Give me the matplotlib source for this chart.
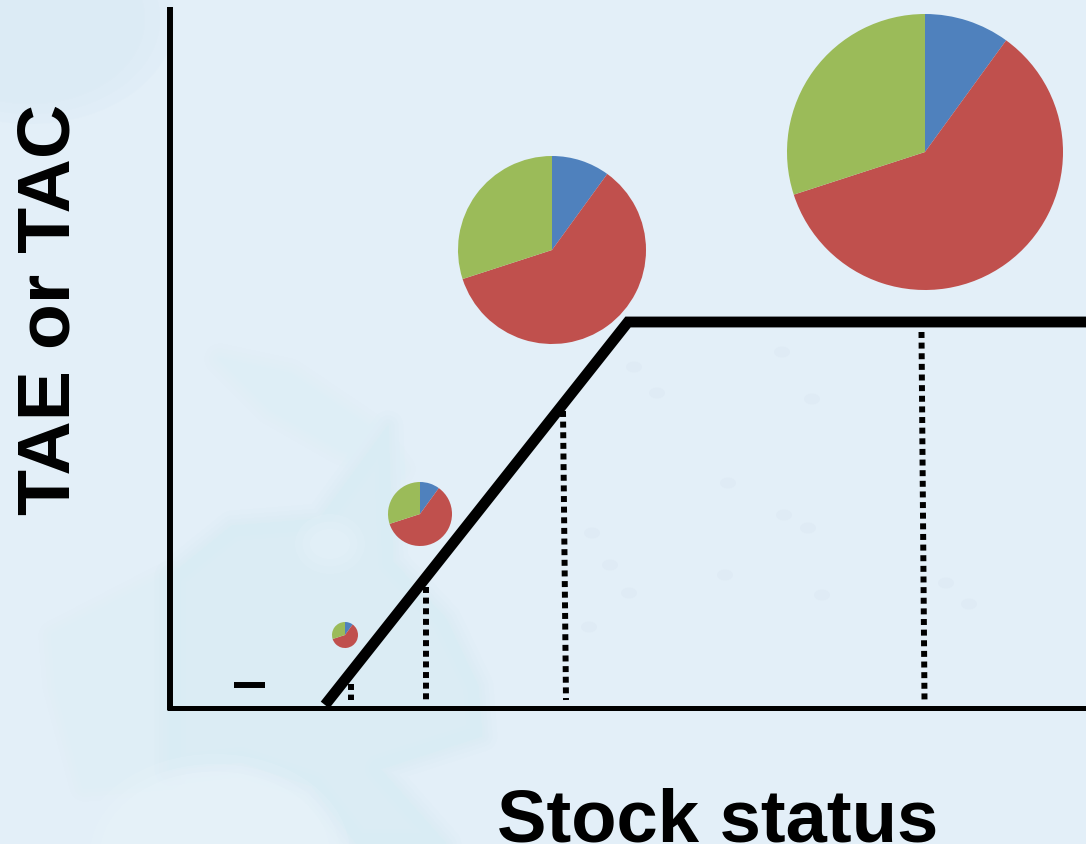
import matplotlib
matplotlib.use("Agg")
import matplotlib.pyplot as plt
from matplotlib.patches import Polygon, Ellipse

# values (pixel scale of the reference)
shares = [10, 60, 30]
share_colors = ["#4f81bd", "#c0504d", "#9bbb59"]

pie_x = [345, 420, 552, 925]
pie_y = [636, 515, 251, 153]
pie_r = [13, 32, 94, 138]

rule_x = [325, 628, 1086]
rule_y = [706, 323, 323]

# dotted lines lean a little in the reference
ref_top_x = [351, 426, 563, 921.5]
ref_bottom_x = [351, 426, 566, 924.5]
ref_top_y = [685, 588, 412, 333]
ref_bottom_y = 701
axis_y = 708.5

# faint map behind the chart
australia_west = [(54, 637), (170, 577), (170, 780), (85, 787), (58, 687)]
australia = [(170, 577), (232, 527), (320, 520), (388, 427), (393, 563), (446, 620),
             (478, 687), (482, 737), (380, 770), (446, 845), (357, 845), (312, 787), (241, 763),
             (170, 771)]
new_guinea = [(220, 360), (290, 375), (367, 427), (400, 470), (340, 450), (270, 410)]
west_coast = [(0, 150), (40, 190), (70, 300), (40, 420), (0, 440)]
island_x = [592, 610, 629, 589, 725, 822, 784, 808, 946, 969, 634, 657, 782, 812, 728]
island_y = [534, 566, 594, 628, 576, 596, 516, 529, 584, 605, 368, 394, 353, 400, 484]


def soft_polygon(ax, points, color, zorder=0):
    # feathered edge: same shape stroked a few times with low alpha
    for lw in [22, 15, 9, 4, 1]:
        ax.add_patch(Polygon(points, fc=color, ec=color, lw=lw, alpha=0.2,
                             joinstyle="round", zorder=zorder))


fig = plt.figure(figsize=(10.86, 8.45), dpi=100, facecolor="#e3eff8")
ax = fig.add_axes([0, 0, 1, 1])

soft_polygon(ax, australia_west, "#dfeef6")
soft_polygon(ax, australia, "#d9ecf4")
soft_polygon(ax, new_guinea, "#deeef6")
soft_polygon(ax, west_coast, "#e7f2f9")
for w, h, a in [(70, 60, 0.3), (55, 45, 0.4), (40, 30, 0.6)]:
    ax.add_patch(Ellipse((330, 545), w, h, fc="#e4f0f8", ec="none", alpha=a, zorder=0.5))
for w, h, a in [(270, 200, 0.3), (250, 180, 0.4), (230, 165, 0.6)]:
    ax.add_patch(Ellipse((215, 855), w, h, fc="#e6f2f9", ec="none", alpha=a, zorder=0.5))
for w, h, a in [(290, 210, 0.3), (260, 190, 0.4), (230, 170, 0.5)]:
    ax.add_patch(Ellipse((30, 20), w, h, fc="#dcebf5", ec="none", alpha=a, zorder=0))
for x, y in zip(island_x, island_y):
    ax.add_patch(Ellipse((x, y), 16, 11, fc="#dde9f3", ec="none", alpha=0.6, zorder=0.5))

# axes
ax.plot([170, 170], [8, axis_y + 2], color="black", lw=4.3, solid_capstyle="butt", zorder=2)
ax.plot([167, 1086], [axis_y, axis_y], color="black", lw=3.6, solid_capstyle="butt", zorder=2)

# harvest control rule
ax.plot(rule_x, rule_y, color="black", lw=7.8, solid_capstyle="butt", solid_joinstyle="miter", zorder=3)
ax.plot([234, 265], [685.5, 685.5], color="black", lw=4.3, solid_capstyle="butt", zorder=3)

# reference points
for x0, x1, top in zip(ref_top_x, ref_bottom_x, ref_top_y):
    ax.plot([x0, x1], [top, ref_bottom_y], color="black", lw=4.3, zorder=2,
            linestyle=(0, (1.0, 0.78)), dash_capstyle="butt")

# pies, y axis is inverted below so counterclock runs clockwise on screen
for x, y, r in zip(pie_x, pie_y, pie_r):
    ax.pie(shares, colors=share_colors, startangle=-90, counterclock=True, center=(x, y), radius=r,
           frame=True, wedgeprops={"linewidth": 0})
ax.set_xlim(0, 1086)
ax.set_ylim(845, 0)
ax.set_aspect("auto")
ax.axis("off")

font = ["Liberation Sans", "DejaVu Sans"]
ax.text(50, 309, "TAE or TAC", rotation=90, ha="center", va="center", family=font, weight="bold",
        fontsize=54.2, color="black")
ax.text(718, 842, "Stock status", ha="center", va="baseline", family=font, weight="bold",
        fontsize=53.5, color="black")

fig.savefig("out.png", dpi=100, facecolor=fig.get_facecolor())
